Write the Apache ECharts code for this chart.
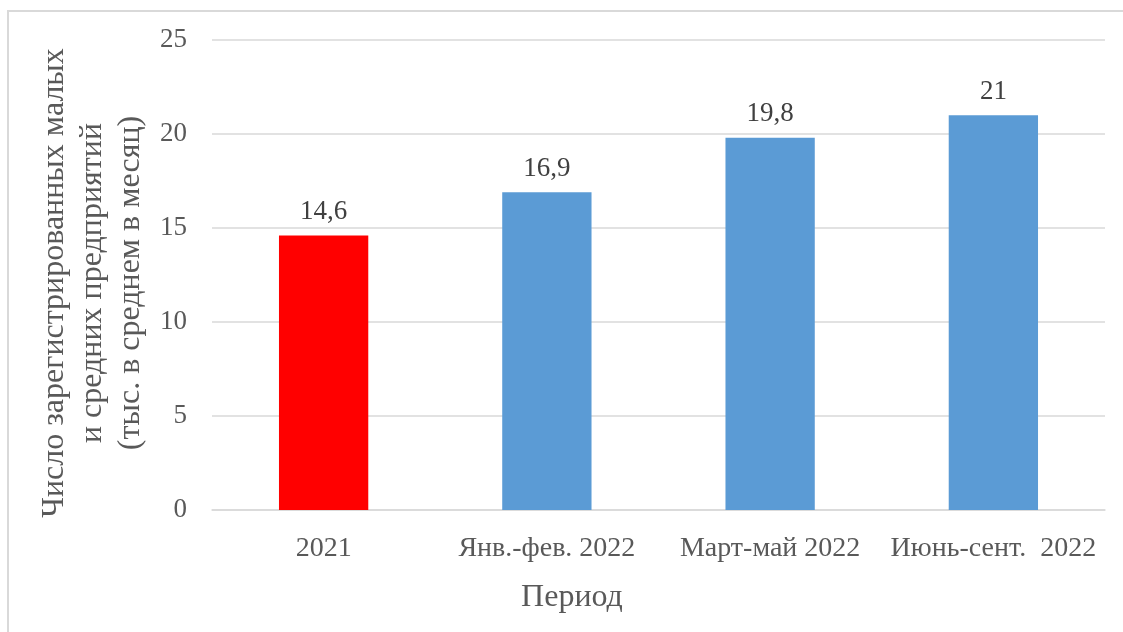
<!DOCTYPE html>
<html>
<head>
<meta charset="utf-8">
<script src="https://cdn.jsdelivr.net/npm/echarts@6/dist/echarts.min.js"></script>
<style>
html,body{margin:0;padding:0;background:#fff;}
#chart{width:1123px;height:632px;}
</style>
</head>
<body>
<div id="chart"></div>
<script>
const categories = ['2021', 'Янв.-фев. 2022', 'Март-май 2022', 'Июнь-сент.  2022'];
const values = [14.6, 16.9, 19.8, 21];
const barColors = ['#ff0000', '#5b9bd5', '#5b9bd5', '#5b9bd5'];
const yTicks = [0, 5, 10, 15, 20, 25];
const yAxisTitle = 'Число зарегистрированных малых\nи средних предприятий\n(тыс. в среднем в месяц)';
const xAxisTitle = 'Период';

const FONT = '"Liberation Serif", "Times New Roman", serif';
const chart = echarts.init(document.getElementById('chart'));
chart.setOption({
  animation: false,
  backgroundColor: '#fff',
  graphic: [
    { type: 'rect', shape: { x: 8, y: 11, width: 1300, height: 800 }, style: { fill: 'none', stroke: '#d9d9d9', lineWidth: 2 }, silent: true },
    { type: 'text', x: 572, y: 598, style: { text: xAxisTitle, font: '32px ' + FONT, fill: '#595959', align: 'center', verticalAlign: 'middle' } }
  ],
  grid: { left: 212, right: 18, top: 40, bottom: 122, containLabel: false },
  xAxis: {
    type: 'category',
    data: categories,
    axisLine: { lineStyle: { color: '#d9d9d9', width: 1.5 } },
    axisTick: { show: false },
    axisLabel: { color: '#595959', fontFamily: FONT, fontSize: 28, margin: 25, interval: 0 }
  },
  yAxis: {
    type: 'value',
    min: 0, max: yTicks[yTicks.length - 1], interval: 5,
    name: yAxisTitle,
    nameLocation: 'middle',
    nameRotate: 90,
    nameGap: 56,
    nameTextStyle: { color: '#595959', fontFamily: FONT, fontSize: 32, lineHeight: 38, align: 'center', padding: [0, 16, 0, 0] },
    axisLine: { show: false },
    axisTick: { show: false },
    splitLine: { lineStyle: { color: '#d9d9d9', width: 1.5 } },
    axisLabel: { color: '#595959', fontFamily: FONT, fontSize: 27, margin: 25 }
  },
  series: [{
    type: 'bar',
    data: values.map((v, i) => ({ value: v, itemStyle: { color: barColors[i] } })),
    barWidth: '40%',
    label: {
      show: true, position: 'top', distance: 10,
      color: '#404040', fontFamily: FONT, fontSize: 27,
      formatter: p => String(p.value).replace('.', ',')
    }
  }]
});
</script>
</body>
</html>
